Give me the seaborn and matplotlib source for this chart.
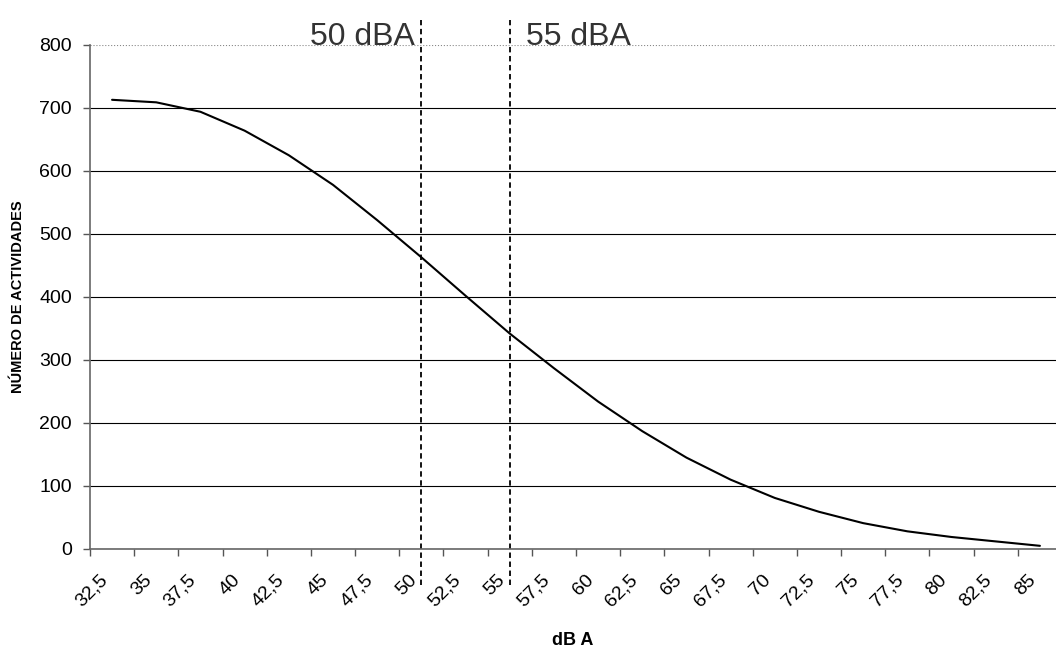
#!/usr/bin/env python3

# import libraries
import numpy as np
import matplotlib
matplotlib.use('Agg')
import matplotlib.pyplot as plt
import matplotlib.transforms as mtransforms
import seaborn as sns

# data
db_levels = [32.5, 35, 37.5, 40, 42.5, 45, 47.5, 50, 52.5, 55, 57.5,
             60, 62.5, 65, 67.5, 70, 72.5, 75, 77.5, 80, 82.5, 85]
actividades = [713, 709, 694, 664, 625, 578, 522, 463, 402, 342, 287,
               234, 187, 145, 110, 81, 59, 41, 28, 19, 12, 5]
x_labels = [str(v).replace('.', ',') for v in db_levels]
limits = [50, 55]
limit_labels = ['50 dBA', '55 dBA']
y_ticks = [0, 100, 200, 300, 400, 500, 600, 700, 800]

sns.set_style('white')
plt.rcParams['font.family'] = ['Liberation Sans', 'DejaVu Sans']
plt.rcParams['text.color'] = 'black'
plt.rcParams['axes.labelcolor'] = 'black'
plt.rcParams['xtick.color'] = 'black'
plt.rcParams['ytick.color'] = 'black'

fig = plt.figure(figsize=(10.56, 6.54), dpi=100)
ax = fig.add_axes([0.0852, 0.1606, 0.9205, 0.7706])

pos = np.arange(len(db_levels))
sns.lineplot(x=pos, y=actividades, ax=ax, color='black', linewidth=1.5)

ax.set_xlim(-0.5, len(db_levels) - 0.5)
ax.set_ylim(0, 800)

# category labels in the middle, tick marks on the borders
ax.set_xticks(pos)
ax.set_xticklabels(x_labels, rotation=45, ha='right', va='top',
                   rotation_mode='anchor', fontsize=14)
ax.set_xticks(np.arange(len(db_levels) + 1) - 0.5, minor=True)
ax.tick_params(axis='x', which='major', length=0, pad=16)
ax.tick_params(axis='x', which='minor', length=5, width=1, color='#555555',
               direction='out', bottom=True)
offset = mtransforms.ScaledTranslation(-13 / 100, 0, fig.dpi_scale_trans)
for lab in ax.get_xticklabels():
    lab.set_transform(lab.get_transform() + offset)

ax.set_yticks(y_ticks)
ax.set_yticklabels([str(v) for v in y_ticks], fontsize=14)
ax.tick_params(axis='y', length=5, width=1, color='#555555',
               direction='out', left=True, pad=8)

# horizontal grid, top one faded like the scan
ax.grid(axis='y', color='black', linewidth=0.8)
ax.grid(axis='x', visible=False)
ax.yaxis.get_gridlines()[-1].set_linestyle(':')
ax.yaxis.get_gridlines()[-1].set_color('#888888')

for side in ['top', 'right']:
    ax.spines[side].set_visible(False)
for side in ['left', 'bottom']:
    ax.spines[side].set_color('#666666')
    ax.spines[side].set_linewidth(1.2)

# dashed limit lines with their labels
for i, (lim, txt) in enumerate(zip(limits, limit_labels)):
    xl = db_levels.index(lim)
    ax.plot([xl, xl], [-57, 840], color='black', linewidth=1.3,
            linestyle=(0, (3, 2)), clip_on=False)
    if i == 0:
        ax.annotate(txt, xy=(xl, 812), xytext=(-5, 0), textcoords='offset points',
                    ha='right', va='center', fontsize=23, color='#333333',
                    annotation_clip=False)
    else:
        ax.annotate(txt, xy=(xl, 812), xytext=(12, 0), textcoords='offset points',
                    ha='left', va='center', fontsize=23, color='#333333',
                    annotation_clip=False)

ax.set_xlabel('dB A', fontsize=13, fontweight='bold')
ax.xaxis.set_label_coords(0.497, -0.165)
ax.set_ylabel('NÚMERO DE ACTIVIDADES', fontsize=10.5, fontweight='bold')
ax.yaxis.set_label_coords(-0.067, 0.5)

plt.savefig('out.png', dpi=100)
plt.close()
